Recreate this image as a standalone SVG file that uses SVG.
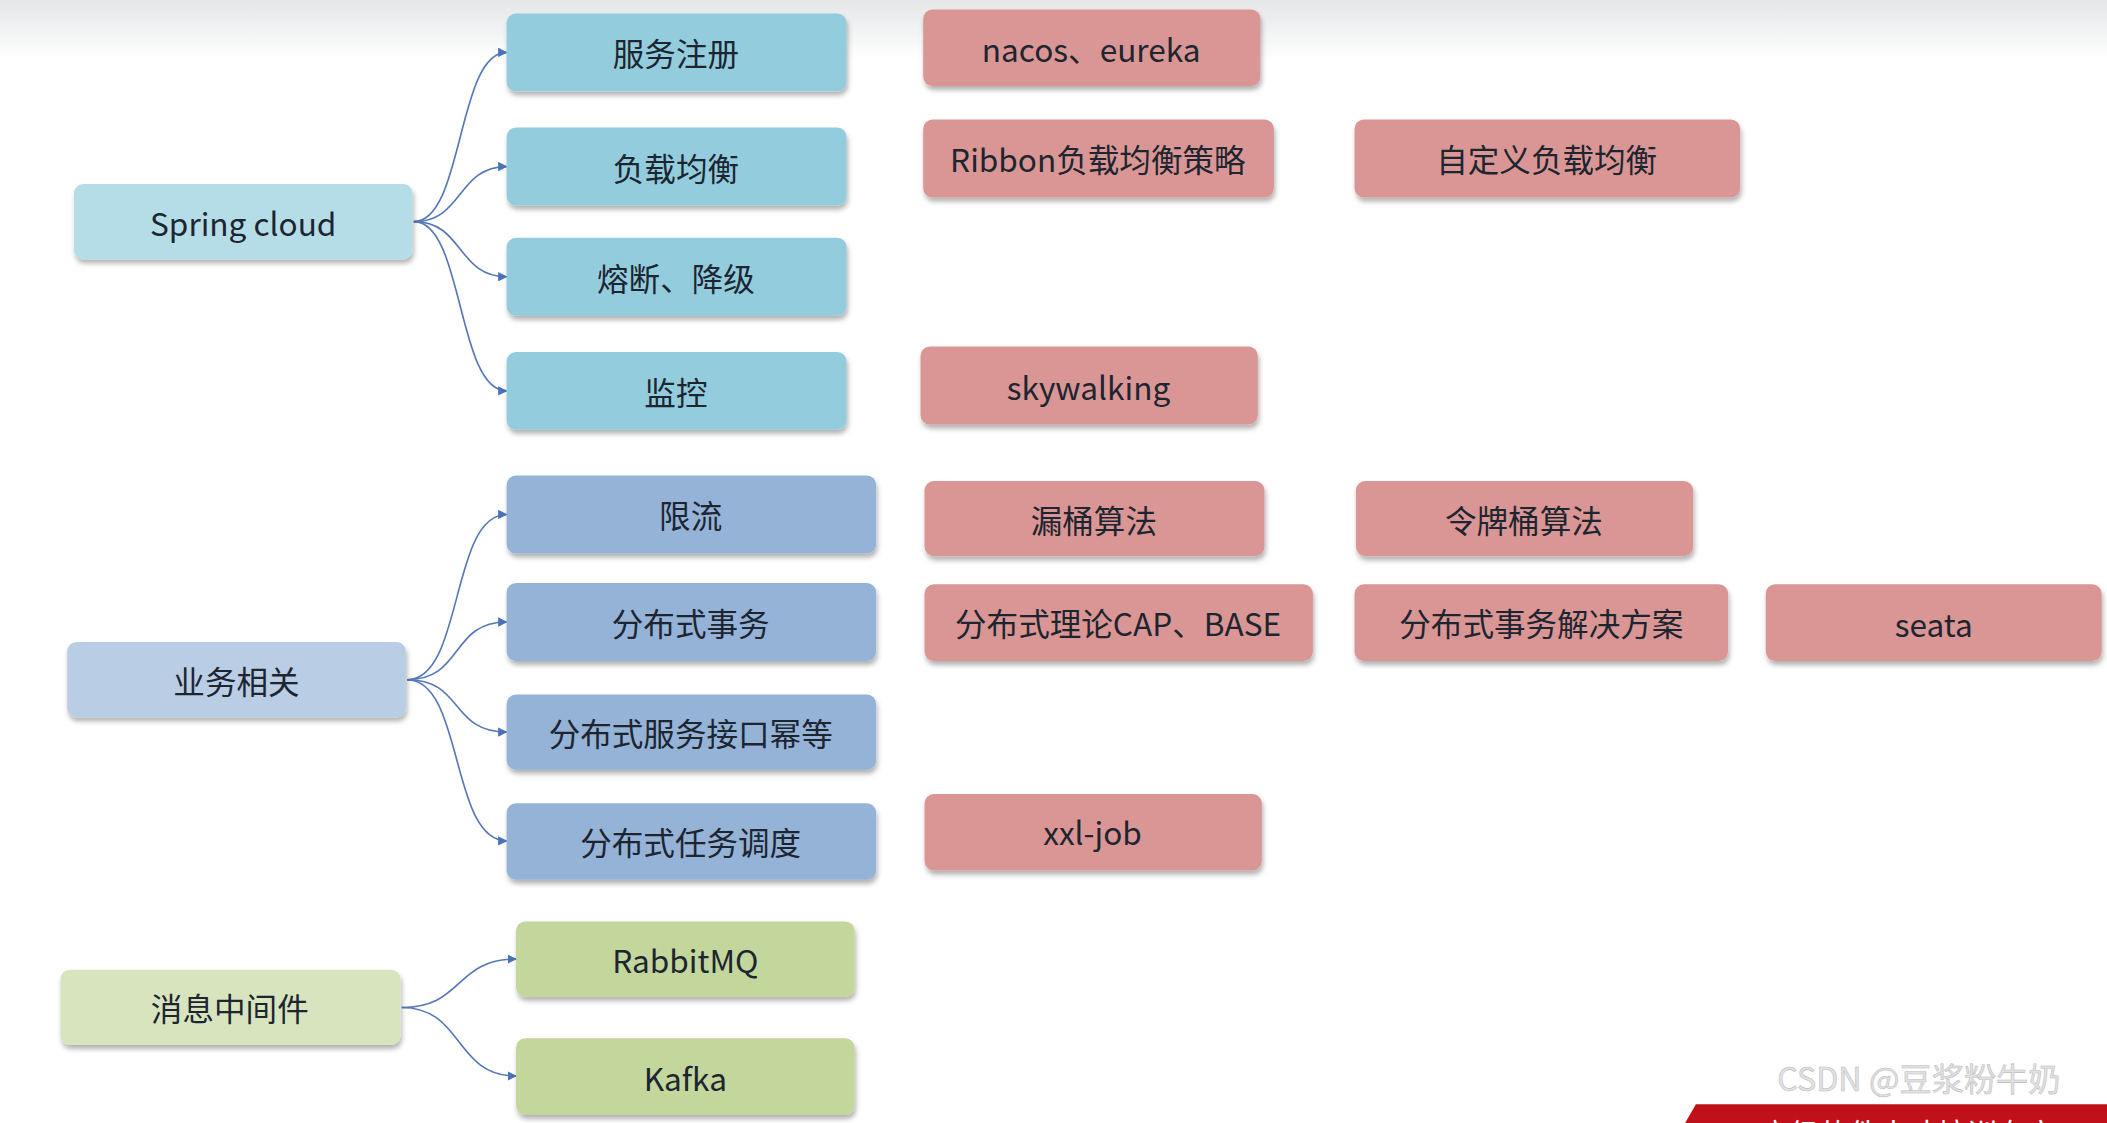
<svg xmlns="http://www.w3.org/2000/svg" width="2107" height="1123" viewBox="0 0 2107 1123">
<defs>
<linearGradient id="top" x1="0" y1="0" x2="0" y2="1"><stop offset="0" stop-color="#e4e6e8"/><stop offset="1" stop-color="#ffffff"/></linearGradient>
<filter id="sh" x="-10%" y="-20%" width="120%" height="150%"><feDropShadow dx="1" dy="3" stdDeviation="2" flood-color="#000" flood-opacity="0.3"/></filter>
<marker id="ar" viewBox="0 0 10 10" refX="9" refY="5" markerWidth="7" markerHeight="7" orient="auto" markerUnits="userSpaceOnUse"><path d="M0,0 L10,5 L0,10 z" fill="#4A72B8"/></marker>
<style>
rect{filter:url(#sh)}
.c{fill:#93CDDD}.s{fill:#B4DDE8}.b{fill:#95B3D7}.bs{fill:#B9CDE5}.g{fill:#C3D69B}.gs{fill:#D7E4BD}.r{fill:#DA9694}
text{font-family:"Noto Sans CJK SC","Liberation Sans",sans-serif;font-size:23.5px;fill:#1c2530;text-anchor:middle;dominant-baseline:central}
.e path{fill:none;stroke:#5577B8;stroke-width:1.2;marker-end:url(#ar)}
</style>
</defs>
<rect width="2107" height="1123" fill="#fff" style="filter:none"/>
<rect width="2107" height="60" fill="url(#top)" style="filter:none"/>
<g transform="scale(1.3438,1.3433)">
<g class="e">
<path d="M308,165 C345,165 340,39 377,39"/>
<path d="M308,165 C345,165 340,124 377,124"/>
<path d="M308,165 C345,165 340,206 377,206"/>
<path d="M308,165 C345,165 340,291 377,291"/>
<path d="M303,506 C345,506 335,383 377,383"/>
<path d="M303,506 C345,506 335,463 377,463"/>
<path d="M303,506 C345,506 335,545 377,545"/>
<path d="M303,506 C345,506 335,626 377,626"/>
<path d="M299,750 C345,750 338,714 384,714"/>
<path d="M299,750 C345,750 338,801 384,801"/>
</g>
<g id="n-spring"><rect class="s" x="55" y="137" width="252" height="56" rx="7"/><text x="181" y="165">Spring cloud</text></g>
<g id="n-reg"><rect class="c" x="377" y="10" width="253" height="58" rx="7"/><text x="503" y="39">服务注册</text></g>
<g id="n-lb"><rect class="c" x="377" y="95" width="253" height="58" rx="7"/><text x="503" y="124">负载均衡</text></g>
<g id="n-cb"><rect class="c" x="377" y="177" width="253" height="58" rx="7"/><text x="503" y="206">熔断、降级</text></g>
<g id="n-mon"><rect class="c" x="377" y="262" width="253" height="58" rx="7"/><text x="503" y="291">监控</text></g>
<g id="n-nacos"><rect class="r" x="687" y="7" width="251" height="57" rx="7"/><text x="812" y="36">nacos、eureka</text></g>
<g id="n-ribbon"><rect class="r" x="687" y="89" width="261" height="58" rx="7"/><text x="817" y="118">Ribbon负载均衡策略</text></g>
<g id="n-custom"><rect class="r" x="1008" y="89" width="287" height="58" rx="7"/><text x="1151" y="118">自定义负载均衡</text></g>
<g id="n-sky"><rect class="r" x="685" y="258" width="251" height="58" rx="7"/><text x="810" y="287">skywalking</text></g>
<g id="n-biz"><rect class="bs" x="50" y="478" width="252" height="56" rx="7"/><text x="176" y="506">业务相关</text></g>
<g id="n-limit"><rect class="b" x="377" y="354" width="275" height="58" rx="7"/><text x="514" y="383">限流</text></g>
<g id="n-dtx"><rect class="b" x="377" y="434" width="275" height="58" rx="7"/><text x="514" y="463">分布式事务</text></g>
<g id="n-idem"><rect class="b" x="377" y="517" width="275" height="56" rx="7"/><text x="514" y="545">分布式服务接口幂等</text></g>
<g id="n-sched"><rect class="b" x="377" y="598" width="275" height="57" rx="7"/><text x="514" y="626">分布式任务调度</text></g>
<g id="n-leaky"><rect class="r" x="688" y="358" width="253" height="56" rx="7"/><text x="814" y="386">漏桶算法</text></g>
<g id="n-token"><rect class="r" x="1009" y="358" width="251" height="56" rx="7"/><text x="1134" y="386">令牌桶算法</text></g>
<g id="n-cap"><rect class="r" x="688" y="435" width="289" height="57" rx="7"/><text x="832" y="463">分布式理论CAP、BASE</text></g>
<g id="n-sol"><rect class="r" x="1008" y="435" width="278" height="57" rx="7"/><text x="1147" y="463">分布式事务解决方案</text></g>
<g id="n-seata"><rect class="r" x="1314" y="435" width="250" height="57" rx="7"/><text x="1439" y="464">seata</text></g>
<g id="n-xxl"><rect class="r" x="688" y="591" width="251" height="57" rx="7"/><text x="813" y="619">xxl-job</text></g>
<g id="n-mq"><rect class="gs" x="45" y="722" width="253" height="56" rx="7"/><text x="171" y="750">消息中间件</text></g>
<g id="n-rabbit"><rect class="g" x="384" y="686" width="252" height="56" rx="7"/><text x="510" y="714">RabbitMQ</text></g>
<g id="n-kafka"><rect class="g" x="384" y="773" width="252" height="57" rx="7"/><text x="510" y="802">Kafka</text></g>
<text x="1428" y="802" style="font-size:24px;fill:#e2e2e2;stroke:#bbb;stroke-width:0.4">CSDN @豆浆粉牛奶</text>
<polygon points="1262,822 1568,822 1568,836 1254,836" fill="#c0101a"/>
<text x="1420" y="843" style="fill:#fff;font-size:22px">高级软件人才培训专家</text>
</g>
</svg>
